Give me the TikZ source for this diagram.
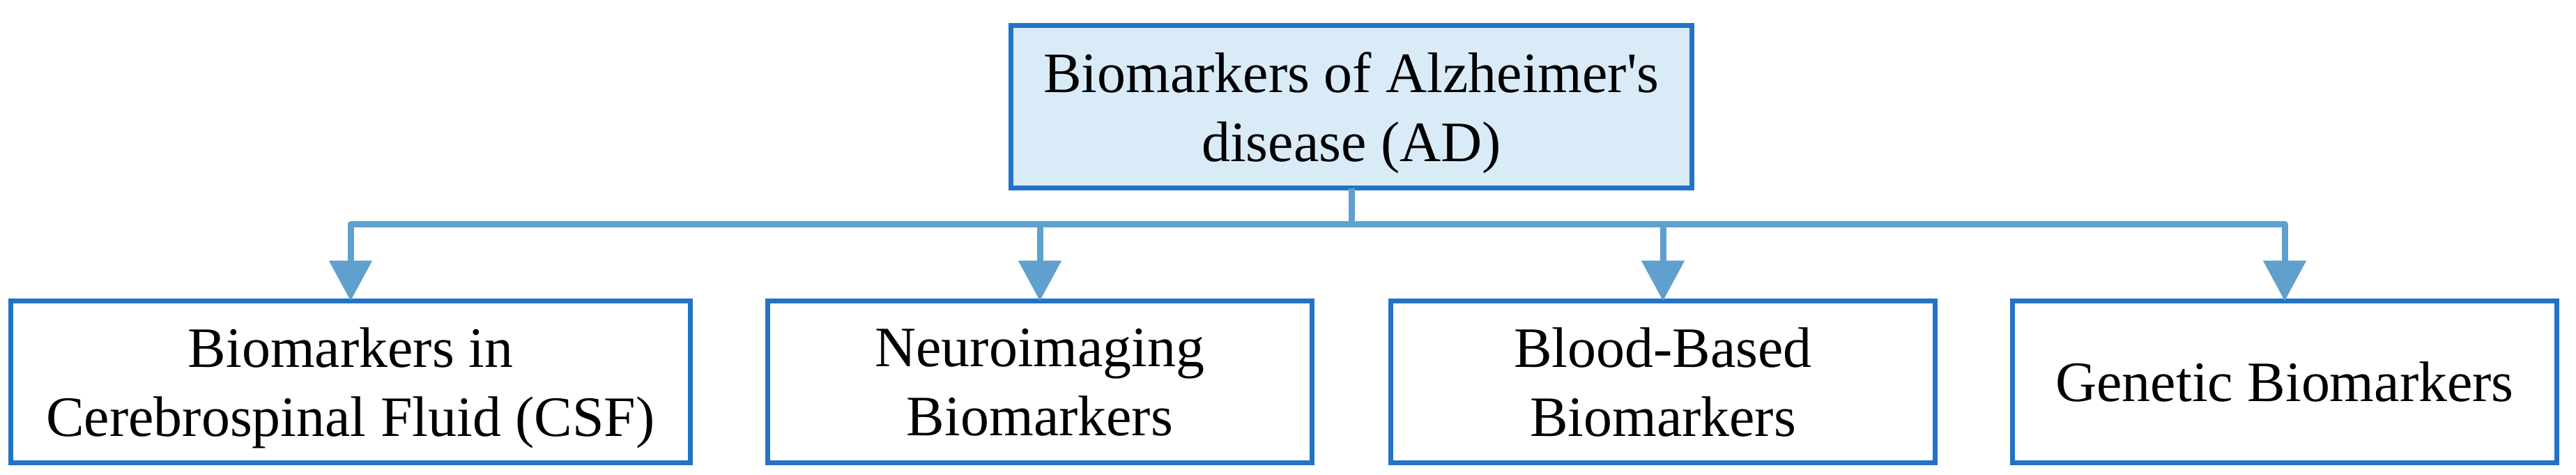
\documentclass[tikz,border=0pt]{standalone}
\usepackage{fontspec}
\setmainfont{Liberation Serif}
\usepackage{xcolor}
\usetikzlibrary{arrows.meta}
\definecolor{boxblue}{RGB}{34, 115, 198}
\definecolor{linkblue}{RGB}{95, 160, 206}
\definecolor{topfill}{RGB}{218, 235, 248}

\begin{document}
\begin{tikzpicture}[
        block/.style={draw=boxblue, line width=0.07cm, fill=white, minimum width=7.81cm, minimum height=2.32cm, inner sep=0pt, outer sep=0pt, text depth=0pt, align=center, font=\fontsize{23.3}{28.2}\selectfont},
        link/.style={draw=linkblue, line width=0.09cm, line join=round},
        arrow/.style={link, -{Triangle[length=0.58cm, width=0.6cm]}}
    ]
        \useasboundingbox (0, 0) rectangle (36.96, 6.80);

        % Root
        \node[block, fill=topfill, minimum width=9.77cm, minimum height=2.33cm] (ad) at (19.39, 5.27) {Biomarkers of Alzheimer\textquotesingle s\\disease (AD)};

        % Categories
        \node[block, minimum width=9.75cm] (csf) at (5.03, 1.325) {Biomarkers in\\Cerebrospinal Fluid (CSF)};
        \node[block] (neuro) at (14.92, 1.325) {Neuroimaging\\Biomarkers};
        \node[block] (blood) at (23.86, 1.325) {Blood-Based\\Biomarkers};
        \node[block] (genetic) at (32.78, 1.325) {Genetic Biomarkers};

        % Arrows
        \coordinate (split) at (19.39, 3.59);
        \draw[link] (ad) -- (split);
        \draw[arrow] (split) -| (csf);
        \draw[arrow] (split) -| (neuro);
        \draw[arrow] (split) -| (blood);
        \draw[arrow] (split) -| (genetic);
    \end{tikzpicture}
\end{document}
